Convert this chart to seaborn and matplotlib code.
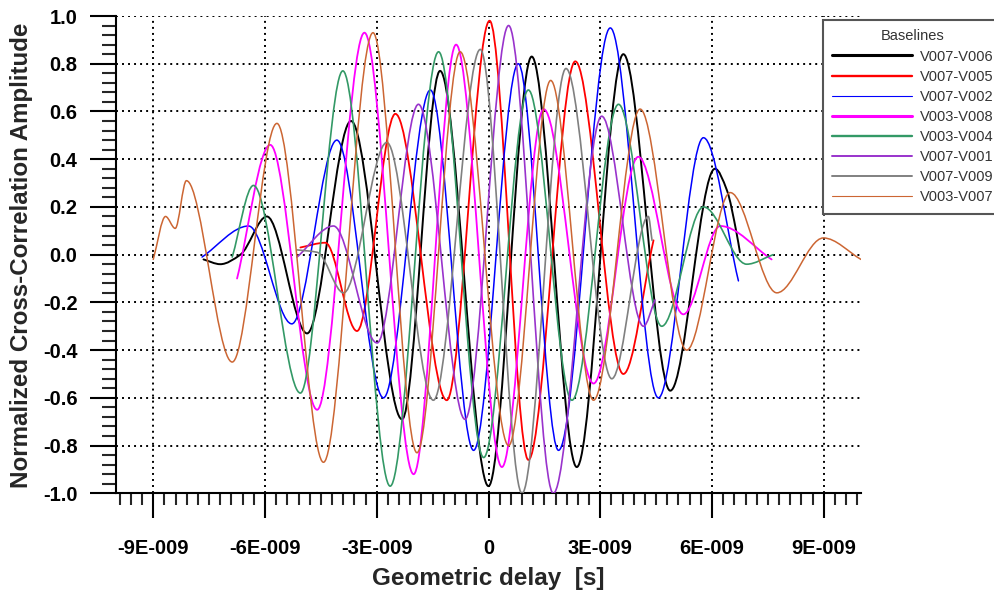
import numpy as np
import pandas as pd
import matplotlib
matplotlib.use("Agg")
import matplotlib.pyplot as plt
from matplotlib.lines import Line2D
from matplotlib.path import Path
from matplotlib.patches import PathPatch
from matplotlib.ticker import FixedLocator, MultipleLocator, FuncFormatter
import seaborn as sns

# Fringe extrema of the normalized cross-correlation amplitude per baseline
# (delay in seconds, amplitude normalized)
baselines = ["V007-V006", "V007-V005", "V007-V002", "V003-V008",
             "V003-V004", "V007-V001", "V007-V009", "V003-V007"]

delay_v007_v006 = [-7.65e-9, -7.20e-9, -6.66e-9, -5.95e-9, -4.87e-9, -3.69e-9, -2.32e-9,
                   -1.30e-9, 0.00e-9, 1.16e-9, 2.37e-9, 3.62e-9, 4.88e-9, 6.08e-9,
                   6.40e-9, 6.66e-9, 6.75e-9]
amp_v007_v006 = [-0.02, -0.04, 0.00, 0.16, -0.33, 0.56, -0.69,
                 0.77, -0.97, 0.83, -0.89, 0.84, -0.57, 0.36,
                 0.27, 0.09, 0.01]

delay_v007_v005 = [-5.05e-9, -4.38e-9, -3.53e-9, -2.50e-9, -1.12e-9, 0.03e-9,
                   1.07e-9, 2.33e-9, 3.62e-9, 4.43e-9]
amp_v007_v005 = [0.03, 0.05, -0.32, 0.59, -0.61, 0.98,
                 -0.86, 0.81, -0.50, 0.06]

delay_v007_v002 = [-7.69e-9, -6.44e-9, -5.28e-9, -4.07e-9, -2.82e-9, -1.56e-9, -0.40e-9,
                   0.80e-9, 1.88e-9, 3.27e-9, 4.56e-9, 5.77e-9, 6.71e-9]
amp_v007_v002 = [-0.01, 0.12, -0.29, 0.48, -0.60, 0.69, -0.82,
                 0.80, -0.82, 0.95, -0.60, 0.49, -0.11]

delay_v003_v008 = [-6.75e-9, -5.86e-9, -4.60e-9, -3.33e-9, -2.01e-9, -0.87e-9, 0.36e-9,
                   1.48e-9, 2.82e-9, 4.02e-9, 5.23e-9, 6.22e-9, 7.60e-9]
amp_v003_v008 = [-0.10, 0.46, -0.65, 0.93, -0.92, 0.88, -0.89,
                 0.61, -0.54, 0.41, -0.25, 0.12, -0.02]

delay_v003_v004 = [-6.88e-9, -6.31e-9, -5.05e-9, -3.91e-9, -2.64e-9, -1.34e-9, -0.13e-9,
                   1.07e-9, 2.24e-9, 3.49e-9, 4.65e-9, 5.77e-9, 6.93e-9, 7.64e-9]
amp_v003_v004 = [-0.01, 0.29, -0.58, 0.77, -0.97, 0.85, -0.85,
                 0.69, -0.61, 0.63, -0.30, 0.20, -0.04, 0.00]

delay_v007_v001 = [-5.14e-9, -4.16e-9, -2.99e-9, -1.88e-9, -0.63e-9, 0.54e-9,
                   1.74e-9, 3.04e-9, 4.16e-9, 4.47e-9]
amp_v007_v001 = [-0.01, 0.12, -0.37, 0.63, -0.69, 0.96,
                 -1.00, 0.58, -0.30, -0.19]

delay_v007_v009 = [-5.14e-9, -4.60e-9, -3.89e-9, -2.73e-9, -1.48e-9, -0.22e-9,
                   0.90e-9, 2.08e-9, 3.31e-9, 4.29e-9, 4.39e-9]
amp_v007_v009 = [0.02, 0.01, -0.16, 0.47, -0.61, 0.86,
                 -1.00, 0.78, -0.52, 0.16, 0.06]

delay_v003_v007 = [-9.00e-9, -8.67e-9, -8.41e-9, -8.11e-9, -6.88e-9, -5.68e-9, -4.43e-9,
                   -3.10e-9, -1.92e-9, -0.76e-9, 0.54e-9, 1.67e-9, 2.82e-9, 4.07e-9,
                   5.32e-9, 6.49e-9, 7.74e-9, 8.99e-9, 10.0e-9]
amp_v003_v007 = [-0.02, 0.16, 0.11, 0.31, -0.45, 0.55, -0.87,
                 0.93, -0.83, 0.85, -0.80, 0.73, -0.61, 0.61,
                 -0.40, 0.26, -0.16, 0.07, -0.02]

series = {
    "V007-V006": (delay_v007_v006, amp_v007_v006),
    "V007-V005": (delay_v007_v005, amp_v007_v005),
    "V007-V002": (delay_v007_v002, amp_v007_v002),
    "V003-V008": (delay_v003_v008, amp_v003_v008),
    "V003-V004": (delay_v003_v004, amp_v003_v004),
    "V007-V001": (delay_v007_v001, amp_v007_v001),
    "V007-V009": (delay_v007_v009, amp_v007_v009),
    "V003-V007": (delay_v003_v007, amp_v003_v007),
}

colors = {
    "V007-V006": "#000000",
    "V007-V005": "#ff0000",
    "V007-V002": "#0000ff",
    "V003-V008": "#ff00ff",
    "V003-V004": "#339966",
    "V007-V001": "#9933cc",
    "V007-V009": "#808080",
    "V003-V007": "#cc6633",
}
plot_widths = {
    "V007-V006": 1.4, "V007-V005": 1.3, "V007-V002": 1.1, "V003-V008": 1.3,
    "V003-V004": 1.2, "V007-V001": 1.2, "V007-V009": 1.2, "V003-V007": 1.1,
}
legend_widths = {
    "V007-V006": 2.2, "V007-V005": 1.7, "V007-V002": 0.8, "V003-V008": 2.2,
    "V003-V004": 1.7, "V007-V001": 1.4, "V007-V009": 1.4, "V003-V007": 0.8,
}

frames = []
for name in baselines:
    d, a = series[name]
    frames.append(pd.DataFrame({"delay": d, "amplitude": a, "baseline": name}))
df = pd.concat(frames, ignore_index=True)

sns.set_style("ticks")
plt.rcParams["font.family"] = ["Liberation Sans", "DejaVu Sans"]

fig = plt.figure(figsize=(9.94, 5.93), dpi=100)
ax = fig.add_axes([116 / 994, 1 - 493.3 / 593, (861 - 116) / 994, (493.3 - 16) / 593])

sns.lineplot(data=df, x="delay", y="amplitude", hue="baseline", hue_order=baselines,
             palette=colors, size="baseline", size_order=baselines, sizes=plot_widths,
             sort=False, estimator=None, legend=False, ax=ax, zorder=3)


def pchip_slopes(x, y):
    """Shape-preserving (Fritsch-Carlson) tangents; flat at every extremum."""
    h = np.diff(x)
    d = np.diff(y) / h
    m = np.zeros_like(y)
    m[0], m[-1] = d[0], d[-1]
    for k in range(1, len(x) - 1):
        if d[k - 1] * d[k] > 0:
            w1 = 2 * h[k] + h[k - 1]
            w2 = h[k] + 2 * h[k - 1]
            m[k] = (w1 + w2) / (w1 / d[k - 1] + w2 / d[k])
    return m


def smooth_fringe(line):
    """Redraw a fringe trace as a cubic Bezier path through its vertices."""
    pts = np.asarray(line.get_xydata(), dtype=float)
    x, y = pts[:, 0], pts[:, 1]
    m = pchip_slopes(x, y)
    verts = [pts[0]]
    codes = [Path.MOVETO]
    for i in range(len(x) - 1):
        h = x[i + 1] - x[i]
        verts += [(x[i] + h / 3, y[i] + m[i] * h / 3),
                  (x[i + 1] - h / 3, y[i + 1] - m[i + 1] * h / 3),
                  (x[i + 1], y[i + 1])]
        codes += [Path.CURVE4] * 3
    patch = PathPatch(Path(verts, codes), facecolor="none", edgecolor=line.get_color(),
                      linewidth=line.get_linewidth(), zorder=line.get_zorder(),
                      transform=line.get_transform(), capstyle="round", joinstyle="round")
    ax.add_patch(patch)
    line.remove()


for ln in list(ax.lines):
    smooth_fringe(ln)

ax.set_xlim(-1.0e-8, 1.0e-8)
ax.set_ylim(-1.0, 1.0)

xmajor = [-9e-9, -6e-9, -3e-9, 0.0, 3e-9, 6e-9, 9e-9]
ax.xaxis.set_major_locator(FixedLocator(xmajor))
ax.xaxis.set_minor_locator(MultipleLocator(3e-10))
ax.xaxis.set_major_formatter(FuncFormatter(
    lambda v, _: "0" if abs(v) < 1e-12 else f"{v * 1e9:.0f}E-009"))

ymajor = np.round(np.arange(-5, 6) * 0.2, 1)
ax.yaxis.set_major_locator(FixedLocator(ymajor))
ax.yaxis.set_minor_locator(MultipleLocator(0.04))
ax.yaxis.set_major_formatter(FuncFormatter(
    lambda v, _: f"{v:.1f}".replace("-0.0", "0.0")))

ax.tick_params(axis="x", which="major", direction="out", length=18, width=1.5,
               pad=15, labelsize=14.5, colors="black")
ax.tick_params(axis="x", which="minor", direction="out", length=8.6, width=1.5)
ax.tick_params(axis="y", which="major", direction="out", length=18.7, width=1.5,
               pad=9, labelsize=14.5, colors="black")
ax.tick_params(axis="y", which="minor", direction="out", length=10, width=1.5)
for lab in ax.get_xticklabels() + ax.get_yticklabels():
    lab.set_fontweight("bold")

for side in ("top", "right"):
    ax.spines[side].set_visible(False)
for side in ("left", "bottom"):
    ax.spines[side].set_linewidth(1.5)
    ax.spines[side].set_color("black")

ax.grid(True, which="major", color="black", linestyle=(0, (1, 2.1)), linewidth=1.4)
ax.set_axisbelow(True)
ax.set_xlabel("")
ax.set_ylabel("")

fig.text(488 / 994, 1 - 578 / 593, "Geometric delay  [s]", ha="center", va="center",
         fontsize=17.5, fontweight="bold")
fig.text(22 / 994, 1 - 255 / 593, "Normalized Cross-Correlation Amplitude",
         ha="center", va="center", rotation=90, fontsize=17.4, fontweight="bold")

handles = [Line2D([0], [0], color=colors[n], lw=legend_widths[n]) for n in baselines]
leg = ax.legend(handles, baselines, title="Baselines", loc="upper left",
                bbox_to_anchor=(822.7 / 994, 1 - 20 / 593), bbox_transform=fig.transFigure,
                borderaxespad=0, frameon=True, fancybox=False, fontsize=10.5,
                title_fontsize=10.5, handlelength=5.5, handletextpad=0.5,
                labelspacing=0.42, borderpad=0.65)
leg.get_frame().set_edgecolor("#555555")
leg.get_frame().set_linewidth(1.5)
leg.get_frame().set_facecolor("white")
leg.get_frame().set_alpha(1)
leg.get_title().set_color("#333333")
for t in leg.get_texts():
    t.set_color("#333333")
leg.set_zorder(10)

fig.savefig("out.png", dpi=100)
